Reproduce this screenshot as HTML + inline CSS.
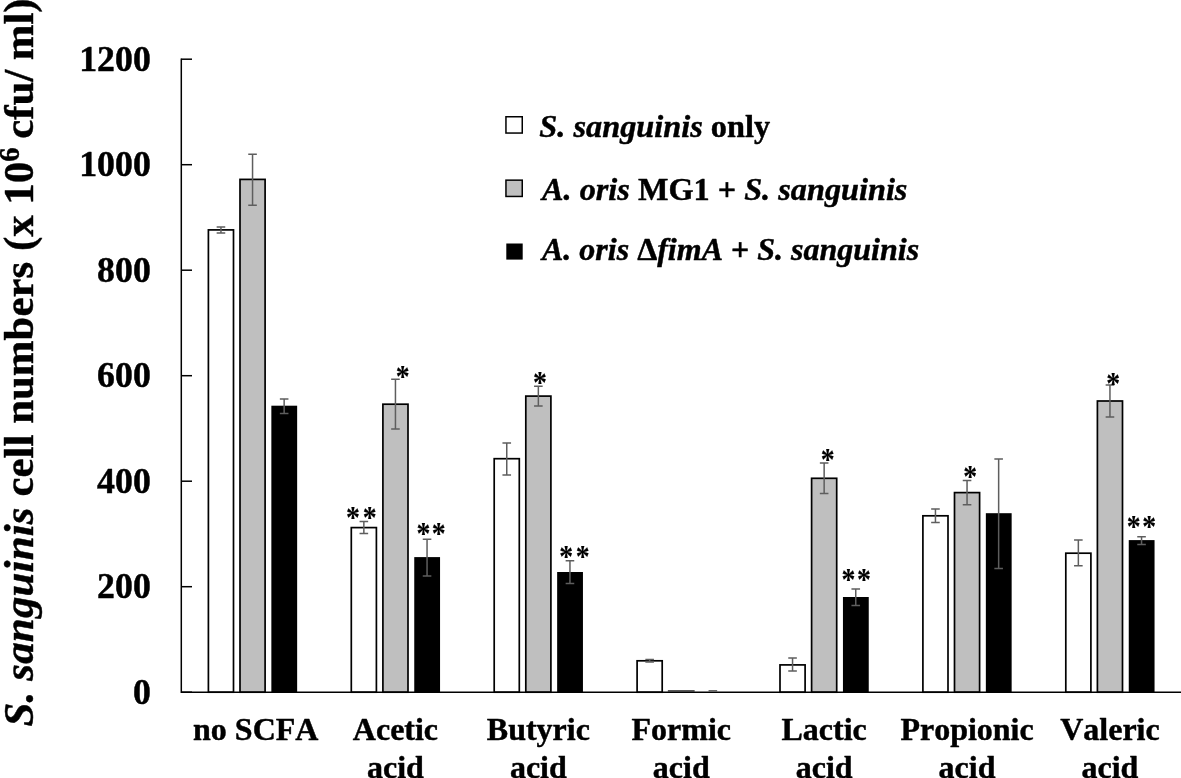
<!DOCTYPE html>
<html lang="en"><head><meta charset="utf-8"><title>S. sanguinis cell numbers</title>
<style>html,body{margin:0;padding:0;background:#fff;}body{width:1181px;height:778px;overflow:hidden;}svg{display:block;}text{font-family:"Liberation Serif","Times New Roman",serif;font-weight:bold;fill:#000;stroke:#000;stroke-width:0.45px;stroke-linejoin:round;font-kerning:none;}.i{font-style:italic;}.s{stroke-width:0.15px;}</style></head><body>
<svg width="1181" height="778" viewBox="0 0 1181 778">
<rect x="0" y="0" width="1181" height="778" fill="#fff"/>
<rect x="208.40" y="229.90" width="25.10" height="462.30" fill="#ffffff" stroke="#000" stroke-width="1.70"/>
<rect x="240.00" y="179.40" width="25.10" height="512.80" fill="#bfbfbf" stroke="#000" stroke-width="1.70"/>
<rect x="271.35" y="405.70" width="25.80" height="286.50" fill="#000"/>
<rect x="351.30" y="527.60" width="25.10" height="164.60" fill="#ffffff" stroke="#000" stroke-width="1.70"/>
<rect x="382.90" y="404.20" width="25.10" height="288.00" fill="#bfbfbf" stroke="#000" stroke-width="1.70"/>
<rect x="414.25" y="557.10" width="25.80" height="135.10" fill="#000"/>
<rect x="494.20" y="458.70" width="25.10" height="233.50" fill="#ffffff" stroke="#000" stroke-width="1.70"/>
<rect x="525.80" y="396.10" width="25.10" height="296.10" fill="#bfbfbf" stroke="#000" stroke-width="1.70"/>
<rect x="557.15" y="572.00" width="25.80" height="120.20" fill="#000"/>
<rect x="637.10" y="660.80" width="25.10" height="31.40" fill="#ffffff" stroke="#000" stroke-width="1.70"/>
<rect x="667.85" y="690.30" width="26.80" height="1.2" fill="#111"/>
<rect x="780.00" y="664.90" width="25.10" height="27.30" fill="#ffffff" stroke="#000" stroke-width="1.70"/>
<rect x="811.60" y="478.30" width="25.10" height="213.90" fill="#bfbfbf" stroke="#000" stroke-width="1.70"/>
<rect x="842.95" y="597.00" width="25.80" height="95.20" fill="#000"/>
<rect x="922.90" y="515.80" width="25.10" height="176.40" fill="#ffffff" stroke="#000" stroke-width="1.70"/>
<rect x="954.50" y="492.60" width="25.10" height="199.60" fill="#bfbfbf" stroke="#000" stroke-width="1.70"/>
<rect x="985.85" y="513.20" width="25.80" height="179.00" fill="#000"/>
<rect x="1065.80" y="553.20" width="25.10" height="139.00" fill="#ffffff" stroke="#000" stroke-width="1.70"/>
<rect x="1097.40" y="401.00" width="25.10" height="291.20" fill="#bfbfbf" stroke="#000" stroke-width="1.70"/>
<rect x="1128.75" y="540.10" width="25.80" height="152.10" fill="#000"/>
<g stroke="#000" stroke-width="1.50" fill="none">
<path d="M181.30 58.55 V692.20 H1181"/>
<path d="M181.30 692.20 H192.00"/>
<path d="M181.30 586.70 H192.00"/>
<path d="M181.30 481.20 H192.00"/>
<path d="M181.30 375.70 H192.00"/>
<path d="M181.30 270.20 H192.00"/>
<path d="M181.30 164.70 H192.00"/>
<path d="M181.30 59.20 H192.00"/>
</g>
<g stroke="#5e5e5e" stroke-width="1.50" fill="none">
<path d="M216.65 227.00 H225.25 M216.65 232.90 H225.25 M220.95 227.00 V232.90"/>
<path d="M248.25 154.20 H256.85 M248.25 205.30 H256.85 M252.55 154.20 V205.30"/>
<path d="M279.85 399.10 H288.45 M279.85 413.60 H288.45 M284.15 399.10 V413.60"/>
<path d="M359.55 521.60 H368.15 M359.55 533.50 H368.15 M363.85 521.60 V533.50"/>
<path d="M391.15 379.30 H399.75 M391.15 428.90 H399.75 M395.45 379.30 V428.90"/>
<path d="M422.75 539.20 H431.35 M422.75 576.10 H431.35 M427.05 539.20 V576.10"/>
<path d="M502.45 443.00 H511.05 M502.45 475.10 H511.05 M506.75 443.00 V475.10"/>
<path d="M534.05 386.20 H542.65 M534.05 406.10 H542.65 M538.35 386.20 V406.10"/>
<path d="M565.65 560.80 H574.25 M565.65 583.50 H574.25 M569.95 560.80 V583.50"/>
<path d="M645.35 659.60 H653.95 M645.35 662.00 H653.95 M649.65 659.60 V662.00"/>
<path d="M708.55 690.80 H717.15" stroke="#444" stroke-width="1.2"/>
<path d="M788.25 658.00 H796.85 M788.25 671.00 H796.85 M792.55 658.00 V671.00"/>
<path d="M819.85 463.00 H828.45 M819.85 493.50 H828.45 M824.15 463.00 V493.50"/>
<path d="M851.45 588.90 H860.05 M851.45 605.50 H860.05 M855.75 588.90 V605.50"/>
<path d="M931.15 508.90 H939.75 M931.15 522.60 H939.75 M935.45 508.90 V522.60"/>
<path d="M962.75 480.50 H971.35 M962.75 504.80 H971.35 M967.05 480.50 V504.80"/>
<path d="M994.35 458.90 H1002.95 M994.35 568.40 H1002.95 M998.65 458.90 V568.40"/>
<path d="M1074.05 540.00 H1082.65 M1074.05 565.80 H1082.65 M1078.35 540.00 V565.80"/>
<path d="M1105.65 385.00 H1114.25 M1105.65 417.10 H1114.25 M1109.95 385.00 V417.10"/>
<path d="M1137.25 536.70 H1145.85 M1137.25 544.40 H1145.85 M1141.55 536.70 V544.40"/>
</g>
<text transform="translate(150.80 703.90) scale(1.0000 1.0100)" font-size="35.8" text-anchor="end">0</text>
<text transform="translate(150.80 598.40) scale(1.0000 1.0100)" font-size="35.8" text-anchor="end">200</text>
<text transform="translate(150.80 492.90) scale(1.0000 1.0100)" font-size="35.8" text-anchor="end">400</text>
<text transform="translate(150.80 387.40) scale(1.0000 1.0100)" font-size="35.8" text-anchor="end">600</text>
<text transform="translate(150.80 281.90) scale(1.0000 1.0100)" font-size="35.8" text-anchor="end">800</text>
<text transform="translate(150.80 176.40) scale(1.0000 1.0100)" font-size="35.8" text-anchor="end">1000</text>
<text transform="translate(150.80 70.90) scale(1.0000 1.0100)" font-size="35.8" text-anchor="end">1200</text>
<text transform="translate(255.75 740.40) scale(1.0000 1.0100)" font-size="32" text-anchor="middle">no SCFA</text>
<text transform="translate(395.45 740.40) scale(1.0000 1.0100)" font-size="32" text-anchor="middle">Acetic</text>
<text transform="translate(395.45 778.00) scale(1.0000 1.0100)" font-size="32" text-anchor="middle">acid</text>
<text transform="translate(538.35 740.40) scale(1.0000 1.0100)" font-size="32" text-anchor="middle">Butyric</text>
<text transform="translate(538.35 778.00) scale(1.0000 1.0100)" font-size="32" text-anchor="middle">acid</text>
<text transform="translate(681.25 740.40) scale(1.0000 1.0100)" font-size="32" text-anchor="middle">Formic</text>
<text transform="translate(681.25 778.00) scale(1.0000 1.0100)" font-size="32" text-anchor="middle">acid</text>
<text transform="translate(824.15 740.40) scale(1.0000 1.0100)" font-size="32" text-anchor="middle">Lactic</text>
<text transform="translate(824.15 778.00) scale(1.0000 1.0100)" font-size="32" text-anchor="middle">acid</text>
<text transform="translate(967.05 740.40) scale(1.0000 1.0100)" font-size="32" text-anchor="middle">Propionic</text>
<text transform="translate(967.05 778.00) scale(1.0000 1.0100)" font-size="32" text-anchor="middle">acid</text>
<text transform="translate(1109.95 740.40) scale(1.0000 1.0100)" font-size="32" text-anchor="middle">Valeric</text>
<text transform="translate(1109.95 778.00) scale(1.0000 1.0100)" font-size="32" text-anchor="middle">acid</text>
<rect x="505.95" y="116.75" width="16.3" height="16.3" fill="#fff" stroke="#000" stroke-width="1.5"/>
<rect x="505.95" y="180.15" width="16.3" height="16.3" fill="#bfbfbf" stroke="#000" stroke-width="1.5"/>
<rect x="506.3" y="243.5" width="16.4" height="16.1" fill="#000"/>
<text transform="translate(539.30 136.90) scale(1.0100 1.0000)" font-size="32" text-anchor="start"><tspan class="i">S. sanguinis</tspan> only</text>
<text transform="translate(542.00 199.90) scale(1.0090 1.0000)" font-size="32" text-anchor="start"><tspan class="i">A. oris</tspan> MG1 + <tspan class="i">S. sanguinis</tspan></text>
<text transform="translate(542.00 260.40) scale(1.0000 1.0000)" font-size="32" text-anchor="start"><tspan class="i">A. oris</tspan> Δ<tspan class="i">fimA</tspan> + <tspan class="i">S. sanguinis</tspan></text>
<text class="s" transform="translate(346.11 527.84) scale(0.9000 1.0000)" font-size="30.8" text-anchor="start">*</text>
<text class="s" transform="translate(362.81 527.84) scale(0.9000 1.0000)" font-size="30.8" text-anchor="start">*</text>
<text class="s" transform="translate(395.81 386.64) scale(0.9000 1.0000)" font-size="30.8" text-anchor="start">*</text>
<text class="s" transform="translate(416.51 544.34) scale(0.9000 1.0000)" font-size="30.8" text-anchor="start">*</text>
<text class="s" transform="translate(431.81 544.34) scale(0.9000 1.0000)" font-size="30.8" text-anchor="start">*</text>
<text class="s" transform="translate(532.91 392.84) scale(0.9000 1.0000)" font-size="30.8" text-anchor="start">*</text>
<text class="s" transform="translate(559.21 566.64) scale(0.9000 1.0000)" font-size="30.8" text-anchor="start">*</text>
<text class="s" transform="translate(575.71 566.64) scale(0.9000 1.0000)" font-size="30.8" text-anchor="start">*</text>
<text class="s" transform="translate(820.81 469.94) scale(0.9000 1.0000)" font-size="30.8" text-anchor="start">*</text>
<text class="s" transform="translate(841.61 590.44) scale(0.9000 1.0000)" font-size="30.8" text-anchor="start">*</text>
<text class="s" transform="translate(857.01 590.44) scale(0.9000 1.0000)" font-size="30.8" text-anchor="start">*</text>
<text class="s" transform="translate(963.21 487.14) scale(0.9000 1.0000)" font-size="30.8" text-anchor="start">*</text>
<text class="s" transform="translate(1106.21 393.54) scale(0.9000 1.0000)" font-size="30.8" text-anchor="start">*</text>
<text class="s" transform="translate(1126.71 537.44) scale(0.9000 1.0000)" font-size="30.8" text-anchor="start">*</text>
<text class="s" transform="translate(1142.21 537.44) scale(0.9000 1.0000)" font-size="30.8" text-anchor="start">*</text>
<text transform="translate(33.40 726.60) rotate(-90) scale(1.0000 1.0000)" font-size="42.9" text-anchor="start"><tspan class="i" letter-spacing="0.2">S. sanguinis</tspan> cell numbers (x 10<tspan font-size="28.5" dy="-14.3">6</tspan><tspan dy="14.3" dx="-2"> cfu/</tspan><tspan dx="-1.4"> ml)</tspan></text>
</svg></body></html>
